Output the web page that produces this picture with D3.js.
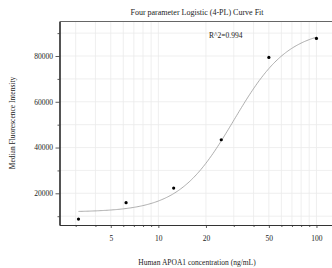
<!DOCTYPE html>
<html>
<head>
<meta charset="utf-8">
<script src="https://cdn.jsdelivr.net/npm/d3@7"></script>
<style>
  body { margin: 0; background: #fff; }
  svg text { font-family: "Liberation Serif", "Times New Roman", serif; fill: #222; }
</style>
</head>
<body>
<svg width="332" height="268"></svg>
<script>
// standard concentrations and measured MFI
var conc = [3.125, 6.25, 12.5, 25, 50, 100];
var mfi = [8750, 15900, 22300, 43400, 79400, 87700];

// 4PL fit parameters (bottom, top, ec50, hill)
var fitA = 11800, fitD = 92000, fitC = 30, fitB = 2.5;
var rSquared = "R^2=0.994";

var xLabelTicks = [5, 10, 20, 50, 100];
var xMinorTicks = [3, 4, 6, 7, 8, 9, 30, 40, 60, 70, 80, 90];
var yLabelTicks = [20000, 40000, 60000, 80000];
var yMinorTicks = [10000, 30000, 50000, 70000, 90000];

var svg = d3.select("svg");
var plotLeft = 59.5, plotRight = 335, plotTop = 21.5, plotBottom = 225;

var x = d3.scaleLog().domain([2.37, 131]).range([plotLeft, plotRight]);
var y = d3.scaleLinear().domain([6150, 95080]).range([plotBottom, plotTop]);

function fourPL(c) {
    return fitD + (fitA - fitD) / (1 + Math.pow(c / fitC, fitB));
}

// grid
var allX = xLabelTicks.concat(xMinorTicks);
var allY = yLabelTicks.concat(yMinorTicks);
svg.append("g").selectAll("line").data(allX).join("line")
    .attr("x1", d => x(d)).attr("x2", d => x(d))
    .attr("y1", plotTop).attr("y2", plotBottom)
    .attr("stroke", "#ebebeb").attr("stroke-width", 0.8);
svg.append("g").selectAll("line").data(allY).join("line")
    .attr("x1", plotLeft).attr("x2", plotRight)
    .attr("y1", d => y(d)).attr("y2", d => y(d))
    .attr("stroke", "#ebebeb").attr("stroke-width", 0.8);

// top border
svg.append("line").attr("x1", plotLeft).attr("x2", plotRight)
    .attr("y1", plotTop).attr("y2", plotTop)
    .attr("stroke", "#666").attr("stroke-width", 1.2);

// axes
var xAxis = d3.axisBottom(x).tickValues(xLabelTicks).tickFormat(d3.format("d"))
    .tickSize(3).tickSizeOuter(0);
var xMinor = d3.axisBottom(x).tickValues(xMinorTicks).tickFormat("")
    .tickSize(2).tickSizeOuter(0);
var yAxis = d3.axisLeft(y).tickValues(yLabelTicks).tickFormat(d3.format("d"))
    .tickSize(4).tickSizeOuter(0);
var yMinor = d3.axisLeft(y).tickValues(yMinorTicks).tickFormat("")
    .tickSize(2).tickSizeOuter(0);

function styleAxis(g) {
    g.select(".domain").attr("stroke", "#333").attr("stroke-width", 1.2);
    g.selectAll(".tick line").attr("stroke", "#333").attr("stroke-width", 0.8);
    g.selectAll(".tick text").attr("font-size", "7.5px")
        .attr("font-family", "Liberation Serif").attr("fill", "#222");
}

svg.append("g").attr("transform", "translate(0," + plotBottom + ")").call(xMinor).call(styleAxis);
svg.append("g").attr("transform", "translate(0," + plotBottom + ")").call(xAxis).call(styleAxis)
    .selectAll(".tick text").attr("dy", "1.3em");
svg.append("g").attr("transform", "translate(" + plotLeft + ",0)").call(yMinor).call(styleAxis);
svg.append("g").attr("transform", "translate(" + plotLeft + ",0)").call(yAxis).call(styleAxis)
    .selectAll(".tick text").attr("x", -6.5);

// fitted curve
var curveX = d3.range(0, 201).map(i => Math.pow(10, Math.log10(conc[0]) +
    i / 200 * (Math.log10(conc[conc.length - 1]) - Math.log10(conc[0]))));
svg.append("path")
    .datum(curveX)
    .attr("fill", "none").attr("stroke", "#999").attr("stroke-width", 0.8)
    .attr("d", d3.line().x(d => x(d)).y(d => y(fourPL(d))));

// points
svg.append("g").selectAll("circle").data(conc).join("circle")
    .attr("cx", d => x(d)).attr("cy", (d, i) => y(mfi[i]))
    .attr("r", 1.6).attr("fill", "#000");

// texts
svg.append("text").attr("x", 197).attr("y", 15).attr("text-anchor", "middle")
    .attr("font-size", "8px").text("Four parameter Logistic (4-PL) Curve Fit");
svg.append("text").attr("x", 209).attr("y", 38)
    .attr("font-size", "7.5px").text(rSquared);
svg.append("text").attr("x", 197).attr("y", 265).attr("text-anchor", "middle")
    .attr("font-size", "7.5px").text("Human APOA1 concentration (ng/mL)");
svg.append("text").attr("transform", "translate(15,123) rotate(-90)")
    .attr("text-anchor", "middle")
    .attr("font-size", "7.5px").text("Median Fluorescence Intensity");
</script>
</body>
</html>
